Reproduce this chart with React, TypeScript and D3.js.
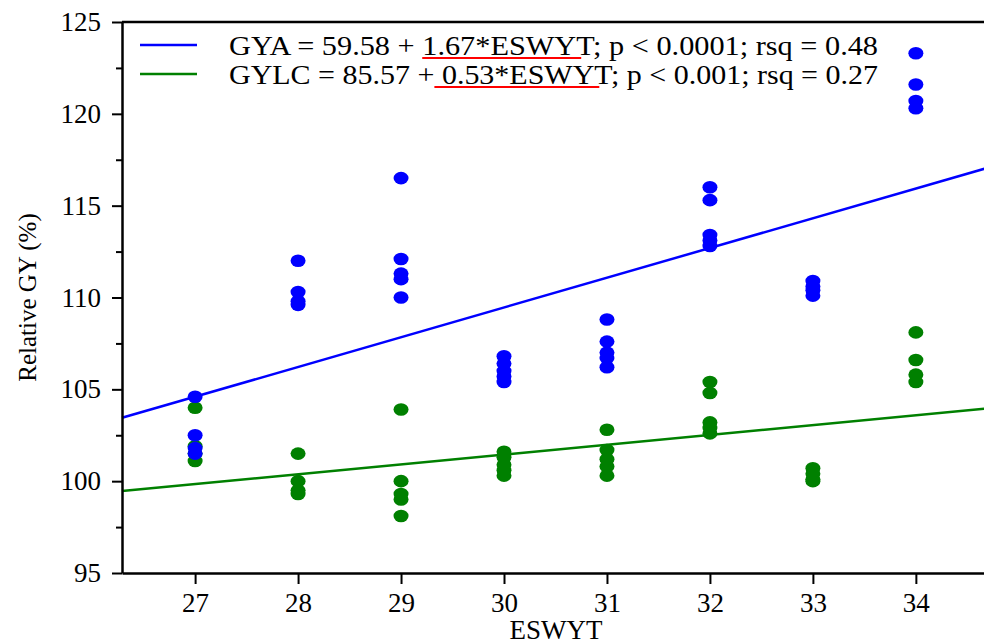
import React, { useEffect, useRef } from 'react';
import * as d3 from 'd3';

// ESWYT on x, relative grain yield on y
const eswyt = [27, 28, 29, 30, 31, 32, 33, 34];
const gyaValues = [
  [104.6, 102.5, 101.8, 101.5],
  [112.0, 110.3, 109.8, 109.6],
  [116.5, 112.1, 111.3, 111.0, 110.0],
  [106.8, 106.4, 106.0, 105.7, 105.4],
  [108.8, 107.6, 107.0, 106.7, 106.2],
  [116.0, 115.3, 113.4, 113.1, 112.8],
  [110.9, 110.6, 110.4, 110.1],
  [123.3, 121.6, 120.7, 120.3],
];
const gylcValues = [
  [104.0, 101.9, 101.5, 101.1],
  [101.5, 100.0, 99.5, 99.3],
  [103.9, 100.0, 99.3, 99.0, 98.1],
  [101.6, 101.3, 100.9, 100.6, 100.3],
  [102.8, 101.7, 101.2, 100.8, 100.3],
  [105.4, 104.8, 103.2, 102.9, 102.6],
  [100.7, 100.4, 100.1, 100.0],
  [108.1, 106.6, 105.8, 105.4],
];
// fitted lines as drawn, read at the ends of the x range
const fitX = [26.29, 34.72];
const gyaFit = [103.45, 117.1];
const gylcFit = [99.46, 103.97];
const yTicks = [95, 100, 105, 110, 115, 120, 125];
const yMinorTicks = [97.5, 102.5, 107.5, 112.5, 117.5, 122.5];
const series = [
  { color: '#0000ff', values: gyaValues, fit: gyaFit,
    pre: 'GYA = 59.58 + ', mark: '1.67*ESWYT', post: '; p < 0.0001; rsq = 0.48' },
  { color: '#008000', values: gylcValues, fit: gylcFit,
    pre: 'GYLC = 85.57 +', mark: ' 0.53*ESWYT', post: '; p < 0.001; rsq = 0.27' },
];

const W = 984;
const H = 640;
const FONT = '"Liberation Serif", "Times New Roman", serif';

export default function App() {
  const ref = useRef<SVGSVGElement>(null);

  useEffect(() => {
    const svg = d3.select(ref.current);
    svg.selectAll('*').remove();

    const left = 122, right = 990, top = 22, bottom = 573;
    const x = d3.scaleLinear().domain(fitX).range([left, right]);
    const y = d3.scaleLinear().domain([95, 125]).range([bottom, top]);

    // top frame line
    svg.append('line')
      .attr('x1', left).attr('x2', right)
      .attr('y1', top).attr('y2', top)
      .attr('stroke', '#000').attr('stroke-width', 2.5);

    // regression lines
    series.forEach(s => {
      const line = d3.line<number>().x(d => x(d)).y((d, i) => y(s.fit[i]));
      svg.append('path')
        .datum(fitX)
        .attr('d', line)
        .attr('fill', 'none')
        .attr('stroke', s.color)
        .attr('stroke-width', 2.5);
    });

    // points, green first so blue sits on top
    [series[1], series[0]].forEach(s => {
      const pts = s.values.flatMap((vals, i) => vals.map(v => ({ x: eswyt[i], v })));
      svg.append('g')
        .selectAll('ellipse')
        .data(pts)
        .enter()
        .append('ellipse')
        .attr('cx', d => x(d.x))
        .attr('cy', d => y(d.v))
        .attr('rx', 7.5)
        .attr('ry', 6.3)
        .attr('fill', s.color);
    });

    // y axis
    const yAxis = svg.append('g')
      .attr('transform', `translate(${left},0)`)
      .call(d3.axisLeft(y).tickValues(yTicks).tickSize(10).tickPadding(11).tickSizeOuter(0).tickFormat(d3.format('d')));
    svg.append('g')
      .attr('transform', `translate(${left},0)`)
      .call(d3.axisLeft(y).tickValues(yMinorTicks).tickSize(6).tickFormat(() => '').tickSizeOuter(0))
      .call(g => g.select('.domain').remove())
      .selectAll('line').attr('stroke-width', 2);

    // x axis
    const xAxis = svg.append('g')
      .attr('transform', `translate(0,${bottom})`)
      .call(d3.axisBottom(x).tickValues(eswyt).tickSize(11).tickPadding(9).tickSizeOuter(0).tickFormat(d3.format('d')));

    [yAxis, xAxis].forEach(g => {
      g.select('.domain').attr('stroke-width', 2.5);
      g.selectAll('.tick line').attr('stroke-width', 2);
      g.selectAll('text').style('font-family', FONT).style('font-size', '27px').attr('fill', '#000');
    });

    // axis titles
    svg.append('text')
      .attr('transform', `translate(27,${(top + bottom) / 2}) rotate(-90)`)
      .attr('text-anchor', 'middle')
      .attr('dy', '0.35em')
      .style('font-family', FONT).style('font-size', '25px')
      .text('Relative GY (%)');
    svg.append('text')
      .attr('x', 556)
      .attr('y', 639)
      .attr('text-anchor', 'middle')
      .style('font-family', FONT).style('font-size', '27px')
      .text('ESWYT');

    // legend
    series.forEach((s, i) => {
      const ly = 45 + i * 29;
      svg.append('line')
        .attr('x1', 140).attr('x2', 197)
        .attr('y1', ly).attr('y2', ly)
        .attr('stroke', s.color).attr('stroke-width', 2.5);
      const t = svg.append('text')
        .attr('x', 229)
        .attr('y', ly + 10)
        .attr('textLength', 649)
        .attr('lengthAdjust', 'spacingAndGlyphs')
        .style('font-family', FONT).style('font-size', '28px')
        .text(s.pre + s.mark + s.post);
      const node = t.node() as SVGTextElement;
      const start = node.getStartPositionOfChar(s.pre.length).x;
      const end = node.getStartPositionOfChar(s.pre.length + s.mark.length - 1).x;
      svg.append('line')
        .attr('x1', start).attr('x2', end + 5)
        .attr('y1', ly + 13).attr('y2', ly + 13)
        .attr('stroke', '#ff0000').attr('stroke-width', 2);
    });
  }, []);

  return (
    <svg
      ref={ref}
      width={W}
      height={H}
      style={{ position: 'absolute', left: 0, top: 0, background: '#fff', display: 'block' }}
    />
  );
}
